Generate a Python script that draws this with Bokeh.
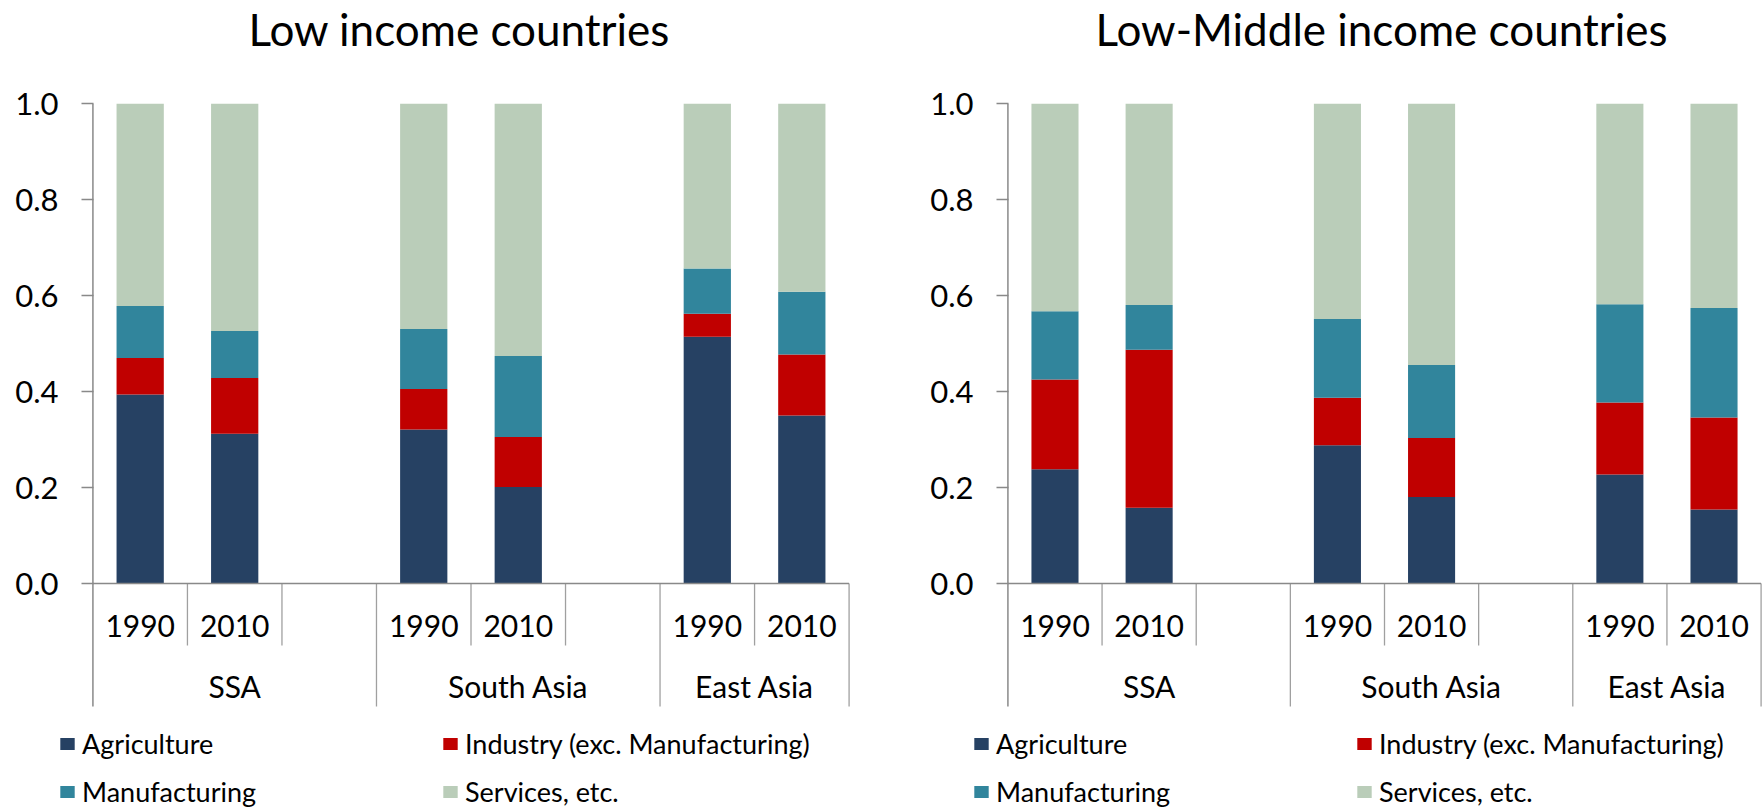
from bokeh.plotting import figure
from bokeh.layouts import row, column
from bokeh.models import (FactorRange, Range1d, FixedTicker, PrintfTickFormatter,
                          ColumnDataSource, Legend, LegendItem, Title)
from bokeh.embed import file_html
from bokeh.resources import INLINE
from bokeh.core.properties import value

# ---------------- data ----------------
regions = ["SSA", "South Asia", "East Asia"]
years = ["1990", "2010"]
sectors = ["Agriculture", "Industry (exc. Manufacturing)", "Manufacturing", "Services, etc."]
y_ticks = [0.0, 0.2, 0.4, 0.6, 0.8, 1.0]
titles = ["Low income countries", "Low-Middle income countries"]

# shares, order: SSA 1990, SSA 2010, South Asia 1990, South Asia 2010, East Asia 1990, East Asia 2010
low_agriculture = [0.394, 0.312, 0.321, 0.201, 0.514, 0.350]
low_industry = [0.076, 0.116, 0.084, 0.104, 0.048, 0.127]
low_manufacturing = [0.108, 0.098, 0.125, 0.169, 0.094, 0.131]
low_services = [0.422, 0.474, 0.470, 0.526, 0.344, 0.392]

lm_agriculture = [0.238, 0.158, 0.288, 0.180, 0.227, 0.154]
lm_industry = [0.187, 0.329, 0.099, 0.123, 0.150, 0.192]
lm_manufacturing = [0.142, 0.093, 0.164, 0.152, 0.205, 0.228]
lm_services = [0.433, 0.420, 0.449, 0.545, 0.418, 0.426]

# ---------------- style ----------------
colors = ["#264163", "#C00000", "#31859C", "#BACDB9"]
FONT = "Lato"
AXIS_COLOR = "#898989"
SEP_COLOR = "#A0A0A0"
PX = 480.0            # pixels per unit on the value axis
CHART_H = 712
LEGEND_H = 99
TOP = 103

YEAR_Y = -42.5 / PX
GROUP_Y = -102 / PX
SHORT_Y = -62 / PX
LONG_Y = -123 / PX


def make_chart(title, shares, width, b_left, b_right, t_offset):
    slots = []
    for i, r in enumerate(regions):
        for y in years:
            slots.append((r, y))
        if i < len(regions) - 1:
            slots.append((r, " "))
    x_range = FactorRange(factors=slots, factor_padding=0, group_padding=0,
                          subgroup_padding=0, range_padding=0.015,
                          range_padding_units="absolute")
    frame_h = CHART_H - TOP
    y_range = Range1d(1.0 - frame_h / PX, 1.0)

    p = figure(width=width, height=CHART_H, x_range=x_range, y_range=y_range,
               x_axis_location=None, toolbar_location=None, output_backend="svg",
               min_border_left=b_left, min_border_right=b_right,
               min_border_top=TOP, min_border_bottom=0, tools="")
    p.outline_line_color = None
    p.xgrid.visible = False
    p.ygrid.visible = False

    # spacer between frame and title (closest to the frame), then the title itself
    p.add_layout(Title(text=" ", text_font_size="10px", standoff=36), "above")
    p.add_layout(Title(text=title, align="left", offset=t_offset, standoff=0,
                       text_font=FONT, text_font_size="44px", text_font_style="normal",
                       text_color="black"), "above")

    ax = p.yaxis[0]
    ax.ticker = FixedTicker(ticks=y_ticks)
    ax.formatter = PrintfTickFormatter(format="%.1f")
    ax.axis_line_color = None
    ax.major_tick_line_color = AXIS_COLOR
    ax.major_tick_line_width = 1.5
    ax.major_tick_in = 2
    ax.major_tick_out = 10
    ax.minor_tick_line_color = None
    ax.major_label_standoff = 23
    ax.major_label_text_font = FONT
    ax.major_label_text_font_size = "31px"
    ax.major_label_text_color = "black"

    bar_x = [(r, y) for r in regions for y in years]
    data = {"x": bar_x}
    for s, vals in zip(sectors, shares):
        data[s] = vals
    src = ColumnDataSource(data)
    p.vbar_stack(sectors, x="x", width=0.5, fill_color=colors,
                 line_color=None, source=src)

    # separators of the category axis
    sx, sy0, sy1 = [], [], []
    for i, r in enumerate(regions):
        subs = [s for (g, s) in slots if g == r]
        if i > 0:
            sx.append((r, subs[0], -0.5)); sy0.append(0.0); sy1.append(LONG_Y)
        for s in subs[:-1]:
            sx.append((r, s, 0.5)); sy0.append(0.0); sy1.append(SHORT_Y)
    last = slots[-1]
    sx.append((last[0], last[1], 0.5)); sy0.append(0.0); sy1.append(LONG_Y)
    p.segment(x0=sx, y0=sy0, x1=sx, y1=sy1, line_color=SEP_COLOR, line_width=1.3)

    # value axis line (continues down as first group separator) and base line
    first = slots[0]
    left_edge = (first[0], first[1], -0.5)
    right_edge = (last[0], last[1], 0.5)
    p.segment(x0=[left_edge], y0=[1.0], x1=[left_edge], y1=[LONG_Y],
              line_color=AXIS_COLOR, line_width=1.5)
    p.segment(x0=[left_edge], y0=[0.0], x1=[right_edge], y1=[0.0],
              line_color=AXIS_COLOR, line_width=1.5)

    # category labels
    p.text(x=bar_x, y=[YEAR_Y] * len(bar_x), text=[y for r in regions for y in years],
           text_font=value(FONT), text_font_size="30px", text_align="center",
           text_baseline="middle", text_color="black")
    p.text(x=regions, y=[GROUP_Y] * len(regions), text=regions,
           text_font=value(FONT), text_font_size="30px", text_align="center",
           text_baseline="middle", text_color="black")
    return p


def make_legend(width, leg_x):
    lp = figure(width=width, height=LEGEND_H, x_range=Range1d(0, 1), y_range=Range1d(0, 1),
                x_axis_location=None, y_axis_location=None, toolbar_location=None,
                output_backend="svg", min_border_left=0, min_border_right=0,
                min_border_top=0, min_border_bottom=0, tools="")
    lp.outline_line_color = None
    lp.xgrid.visible = False
    lp.ygrid.visible = False
    items = []
    nan = float("nan")
    for s, c in zip(sectors, colors):
        # legend-only renderer (no visible bar of its own)
        r = lp.vbar(x=[nan], top=[nan], width=0.5, fill_color=c, line_color=None)
        items.append(LegendItem(label=s, renderers=[r]))
    legend = Legend(items=items, location=(leg_x, 3), orientation="horizontal", ncols=2,
                    glyph_width=18, glyph_height=15, label_standoff=6,
                    label_width=344, label_height=30, spacing=15,
                    padding=0, margin=0, border_line_color=None,
                    background_fill_alpha=0,
                    label_text_font=FONT, label_text_font_size="27px",
                    label_text_color="black")
    lp.add_layout(legend)
    return lp


p1 = make_chart(titles[0], [low_agriculture, low_industry, low_manufacturing, low_services],
                width=870, b_left=91, b_right=20, t_offset=157)
p2 = make_chart(titles[1], [lm_agriculture, lm_industry, lm_manufacturing, lm_services],
                width=893, b_left=136, b_right=1, t_offset=89)
l1 = make_legend(870, 58)
l2 = make_legend(893, 102)

layout = column(row(p1, p2), row(l1, l2))
open("out.html", "w").write(file_html(layout, INLINE))
